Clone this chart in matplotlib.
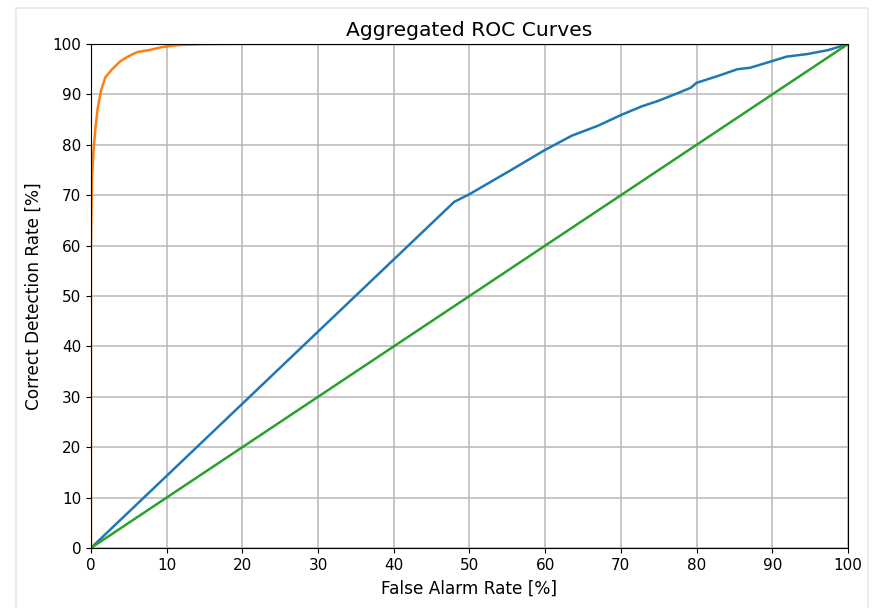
import matplotlib.pyplot as plt
from matplotlib.patches import Rectangle

# ROC values, in percent
good_fa = [0, 0, 0.13, 0.35, 0.58, 0.88, 1.32, 1.9, 2.8, 3.9, 5.0, 6.1, 7.7, 9.4, 11.6, 15, 20, 100]
good_cd = [0, 60, 73.3, 79, 83.1, 87.1, 90.7, 93.4, 95.0, 96.6, 97.6, 98.4, 98.8, 99.4, 99.8, 99.95, 100, 100]

weak_fa = [0, 48.0, 50, 55.5, 60, 63.5, 67, 70, 72.7, 74.9, 77.1, 79.2, 80, 82.7, 85.4,
           87.1, 89.3, 91.9, 94.6, 97.4, 100]
weak_cd = [0, 68.7, 70.2, 75, 79, 81.8, 83.8, 85.9, 87.6, 88.7, 90.0, 91.3, 92.3, 93.6, 95.0,
           95.3, 96.3, 97.5, 98.0, 98.8, 100]

chance = [0, 100]

fig = plt.figure(figsize=(8.78, 6.08), dpi=100)
fig.patches.append(Rectangle((16 / 878, -0.1), 852 / 878, 1.1 - 8 / 608, transform=fig.transFigure,
                             fill=False, edgecolor='#e8e8e8', linewidth=1.2))
ax = fig.add_axes([0.1036, 0.0987, 0.8622, 0.8289])

ax.plot(weak_fa, weak_cd, color='#1f77b4', linewidth=1.8)
ax.plot(good_fa, good_cd, color='#ff7f0e', linewidth=1.8)
ax.plot(chance, chance, color='#2ca02c', linewidth=1.8)

ax.set_xlim(0, 100)
ax.set_ylim(0, 100)
ax.set_xticks(range(0, 101, 10))
ax.set_yticks(range(0, 101, 10))
ax.tick_params(labelsize=11)
ax.grid(True, color='#b8b8b8', linewidth=1.1)
ax.set_axisbelow(True)
ax.set_title('Aggregated ROC Curves', fontsize=14.6, pad=6)
ax.set_xlabel('False Alarm Rate [%]', fontsize=12.2, labelpad=5)
ax.set_ylabel('Correct Detection Rate [%]', fontsize=12.2, labelpad=7)

fig.savefig('out.png', dpi=100)
